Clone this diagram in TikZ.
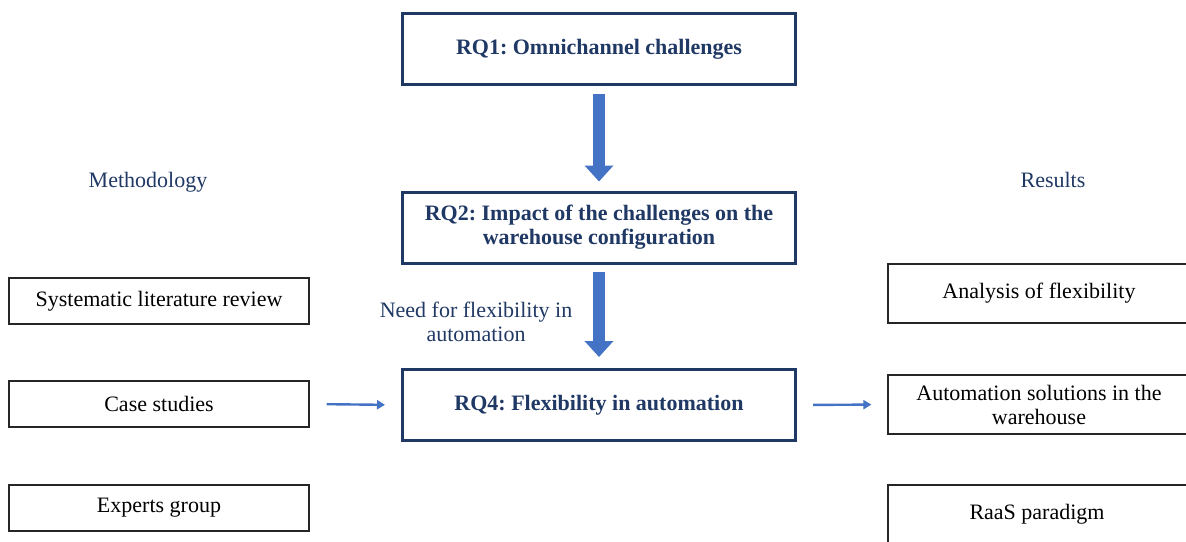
\documentclass[tikz,border=0pt]{standalone}
\usepackage{fontspec}
\setmainfont{Liberation Serif}
\frenchspacing
\usetikzlibrary{arrows.meta}
\definecolor{navy}{HTML}{1F3864}
\definecolor{flowblue}{HTML}{4472C4}
\definecolor{boxline}{HTML}{262626}
\tikzset{
  txt/.style={font=\fontsize{22}{24}\selectfont, align=center},
  rq/.style={txt, draw=navy, line width=3pt, text=navy, font=\fontsize{22}{24}\selectfont\bfseries,
    minimum width=393pt, minimum height=71pt, inner sep=0pt},
  side/.style={txt, draw=boxline, line width=1.2pt, text=black, inner sep=0pt},
  bigarrow/.style={flowblue, line width=12pt, -{Triangle[width=28pt,length=16pt]}},
  thinarrow/.style={flowblue, line width=2.4pt, -{Triangle[width=9pt,length=8pt]}},
  heading/.style={txt, text=navy}
}
\begin{document}
\begin{tikzpicture}[x=1pt,y=-1pt]
\useasboundingbox (0,0) rectangle (1186,541);
% research questions
\node[rq] (rq1) at (599,49) {RQ1: Omnichannel challenges};
\node[rq] (rq2) at (599,227.5) {RQ2: Impact of the challenges on the\\warehouse configuration};
\node[rq] (rq4) at (599,405) {RQ4: Flexibility in automation};
% methodology column
\node[side, minimum width=300pt, minimum height=46pt] (slr) at (159,301) {Systematic literature review};
\node[side, minimum width=300pt, minimum height=46pt] (cases) at (159,404) {Case studies};
\node[side, minimum width=300pt, minimum height=46pt] (experts) at (159,508) {Experts group};
% results column
\node[side, minimum width=302pt, minimum height=59pt] (flex) at (1039,293.5) {Analysis of flexibility};
\node[side, minimum width=302pt, minimum height=59pt] (auto) at (1039,404.5) {Automation solutions in the\\warehouse};
\node[side, minimum width=302pt, minimum height=62pt, text depth=0pt] (raas) at (1039,516) {};
\node[txt] at (1037,514) {RaaS paradigm};
% headings and label
\node[heading] (meth) at (148,182) {Methodology};
\node[heading] (res) at (1053,180) {Results};
\node[heading] (need) at (476,322) {Need for flexibility in\\automation};
% connectors
\draw[bigarrow, shorten <=8pt, shorten >=9pt] (rq1.south) -- (rq2.north);
\draw[bigarrow, shorten <=7pt, shorten >=11pt] (rq2.south) -- (rq4.north);
\draw[thinarrow, shorten <=17pt, shorten >=16pt] (cases.east) -- (rq4.west);
\draw[thinarrow, shorten <=16pt, shorten >=16pt] (rq4.east) -- (auto.west);
\end{tikzpicture}
\end{document}
